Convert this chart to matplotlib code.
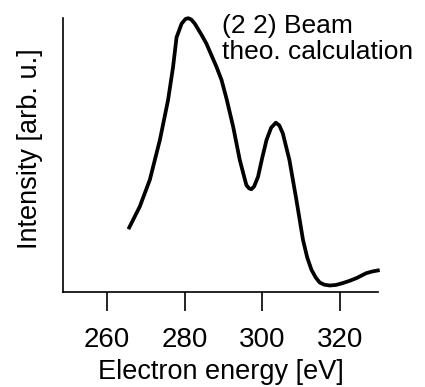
import numpy as np
import matplotlib.pyplot as plt

plt.rcParams['font.family'] = ['Liberation Sans', 'DejaVu Sans']

# values (energy in eV, intensity in arb. units)
energy = [265.7, 268.4, 271.0, 273.6, 275.7, 277.0, 277.9, 279.2, 280.2, 280.9,
          281.7, 282.6, 284.3, 285.6, 288.2, 289.5, 290.8, 292.5, 294.2, 295.9,
          296.6, 297.2, 297.9, 298.9, 300.0, 301.1, 302.3, 303.5, 304.4, 305.3,
          307.0, 308.8, 310.5, 311.6, 312.7, 313.8, 314.8, 316.0, 317.4, 319.0,
          320.8, 322.5, 324.3, 326.8, 328.3, 329.8]
intensity = [0.235, 0.311, 0.409, 0.555, 0.700, 0.822, 0.930, 0.980, 0.997, 1.000,
             0.995, 0.980, 0.940, 0.907, 0.822, 0.774, 0.705, 0.603, 0.482, 0.390,
             0.378, 0.375, 0.385, 0.420, 0.490, 0.555, 0.600, 0.618, 0.608, 0.579,
             0.482, 0.336, 0.190, 0.125, 0.080, 0.052, 0.034, 0.026, 0.023, 0.025,
             0.032, 0.040, 0.050, 0.068, 0.074, 0.078]
xticks = [260, 280, 300, 320]

fig = plt.figure(figsize=(4.25, 3.87), dpi=100)
ax = fig.add_axes([0.149, 0.246, 0.74, 0.707])

ax.plot(energy, intensity, color='black', lw=2.7, clip_on=False)

ax.set_xlim(248.7, 329.8)
ax.set_ylim(0, 1.0)
ax.set_xticks(xticks)
ax.set_yticks([])
ax.tick_params(axis='x', direction='out', length=14, width=1.2, labelsize=20, pad=11)

for s in ['top', 'right']:
    ax.spines[s].set_visible(False)
for s in ['left', 'bottom']:
    ax.spines[s].set_linewidth(1.2)

ax.set_xlabel('Electron energy [eV]', fontsize=19.5, labelpad=5)
ax.set_ylabel('Intensity [arb. u.]', fontsize=19.5)
ax.yaxis.set_label_coords(-0.065, 0.522)

ax.text(0.505, 1.015, '(2 2) Beam\ntheo. calculation', transform=ax.transAxes,
        ha='left', va='top', fontsize=19, linespacing=1.08)

fig.savefig('out.png', dpi=100)
